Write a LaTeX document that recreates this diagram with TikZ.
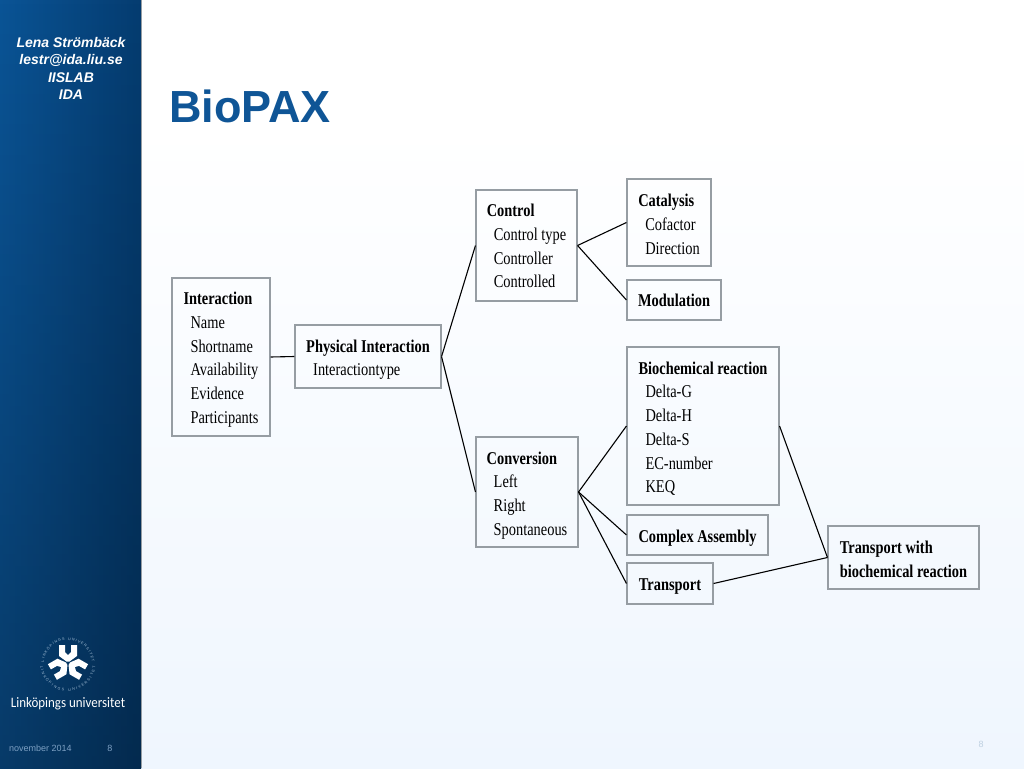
\documentclass[tikz,border=0pt]{standalone}
\usepackage{fontspec}
\usepackage{xcolor}
\usepackage{tikz}
\usetikzlibrary{calc,positioning,fadings,decorations.text}
\setmainfont[FakeStretch=0.8]{Liberation Serif}
\newfontfamily\slidefont{Liberation Sans}
\newfontfamily\brandfont[FakeStretch=0.9]{Carlito}
\definecolor{liublue}{RGB}{10,84,150}
\definecolor{liudark}{RGB}{5,60,112}
\definecolor{titleblue}{RGB}{15,85,150}
\definecolor{obline}{RGB}{150,157,163}
\definecolor{pagepale}{RGB}{239,246,254}
\definecolor{footgrey}{RGB}{125,160,195}

\begin{document}
\begin{tikzpicture}[x=1pt,y=-1pt]
    \tikzset{ob/.style={draw=obline,line width=1.1pt,inner xsep=6pt,inner ysep=0pt,align=left,anchor=center,font=\fontsize{18}{23.7}\selectfont},
      link/.style={draw=black,line width=1.1pt},
      side/.style={text=white,font=\slidefont\bfseries\itshape\fontsize{14}{17.5}\selectfont,align=center},
      foot/.style={text=footgrey,font=\slidefont\fontsize{9}{10}\selectfont},
      ring/.style={postaction={decorate,decoration={text along path,text align=fit to path,text={|\slidefont\fontsize{3.6}{4}\selectfont\color{white!65!liublue}|LINKÖPINGS UNIVERSITET}}}}}
    \useasboundingbox (0,0) rectangle (1024,768);
    \fill[white] (0,0) rectangle (1024,768);
    \shade[top color=white,bottom color=pagepale] (141,125) rectangle (1024,768);
    \shade[left color=liublue,right color=liudark] (0,0) rectangle (141,768);
    \fill[black,opacity=0.3,path fading=north] (0,0) rectangle (141,768);
    \draw[obline,line width=1pt] (141.5,0) -- (141.5,768);
    \node[side] (author) at (71,68.5) {Lena Strömbäck\\lestr@ida.liu.se\\IISLAB\\IDA};
    \node[font=\slidefont\bfseries\fontsize{45}{48}\selectfont,text=titleblue,anchor=west,inner sep=0pt] (title) at (169,106) {BioPAX};
    \foreach \a in {0,120,240}{
      \fill[white,shift={(68,663)},rotate=\a] (-9,-18) -- (-3,-18) -- (-3,-11) -- (0,-8) -- (3,-11) -- (3,-18) -- (9,-18) -- (9,-7) -- (1.5,-1.5) -- (-1.5,-1.5) -- (-9,-7) -- cycle;
    }
    \begin{scope}[shift={(68,664)},y=1pt]
      \path[ring] (-24,2) arc (175:5:24);
      \path[ring] (-27.5,-2) arc (185:355:27.5);
    \end{scope}
    \node[text=white,font=\brandfont\fontsize{14.4}{18}\selectfont,inner sep=0pt] (brand) at (68,704) {Linköpings universitet};
    \node[foot,anchor=west,inner sep=0pt] (date) at (9,748) {november 2014};
    \node[foot,inner sep=0pt] (slidenr) at (110,748) {8};
    \node[text=footgrey!50,font=\slidefont\fontsize{9}{10}\selectfont,inner sep=0pt] (pagenr) at (981,744) {8};

    \node[ob,minimum width=98pt,minimum height=158pt] (interaction) at (221,357) {\rule{0pt}{18pt}\textbf{Interaction}\\\hspace*{7pt}Name\\\hspace*{7pt}Shortname\\\hspace*{7pt}Availability\\\hspace*{7pt}Evidence\\\hspace*{7pt}Participants};
    \node[ob,minimum width=146pt,minimum height=63pt] (physical) at (368,356.5) {\rule{0pt}{19pt}\textbf{Physical Interaction}\\\hspace*{7pt}Interactiontype};
    \node[ob,minimum width=101pt,minimum height=111pt] (control) at (526.5,245.5) {\rule{0pt}{14pt}\textbf{Control}\\\hspace*{7pt}Control type\\\hspace*{7pt}Controller\\\hspace*{7pt}Controlled};
    \node[ob,minimum width=102pt,minimum height=110pt] (conversion) at (527,492) {\rule{0pt}{19pt}\textbf{Conversion}\\\hspace*{7pt}Left\\\hspace*{7pt}Right\\\hspace*{7pt}Spontaneous};
    \node[ob,minimum width=84pt,minimum height=87pt] (catalysis) at (669,222.5) {\rule{0pt}{16pt}\textbf{Catalysis}\\\hspace*{7pt}Cofactor\\\hspace*{7pt}Direction};
    \node[ob,minimum width=94pt,minimum height=40pt] (modulation) at (674,300) {\textbf{Modulation}};
    \node[ob,minimum width=152pt,minimum height=158pt] (biochemical) at (703,426) {\rule{0pt}{18pt}\textbf{Biochemical reaction}\\\hspace*{7pt}Delta-G\\\hspace*{7pt}Delta-H\\\hspace*{7pt}Delta-S\\\hspace*{7pt}EC-number\\\hspace*{7pt}KEQ};
    \node[ob,minimum width=141pt,minimum height=40pt] (complex) at (697.5,535) {\rule{0pt}{18pt}\textbf{Complex Assembly}};
    \node[ob,minimum width=86pt,minimum height=41pt] (transport) at (670,583.5) {\rule{0pt}{18pt}\textbf{Transport}};
    \node[ob,minimum width=151pt,minimum height=63pt] (both) at (903.5,557.5) {\rule{0pt}{16pt}\textbf{Transport with}\\\textbf{biochemical reaction}};

    \draw[link] (interaction.east) -- (physical.west);
    \draw[link] (physical.east) -- (control.west);
    \draw[link] (physical.east) -- (conversion.west);
    \draw[link] (control.east) -- (catalysis.west);
    \draw[link] (control.east) -- (modulation.west);
    \draw[link] (conversion.east) -- (biochemical.west);
    \draw[link] (conversion.east) -- (complex.west);
    \draw[link] (conversion.east) -- (transport.west);
    \draw[link] (biochemical.east) -- (both.west);
    \draw[link] (transport.east) -- (both.west);
  \end{tikzpicture}
\end{document}
